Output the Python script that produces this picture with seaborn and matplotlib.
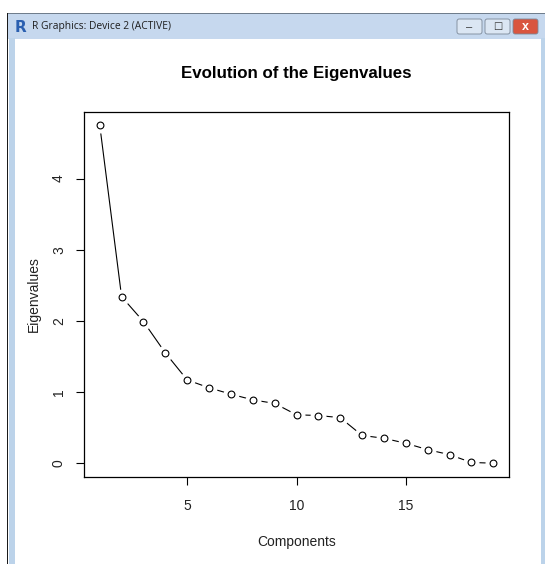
import numpy as np
import matplotlib
matplotlib.use("Agg")
import matplotlib.pyplot as plt
from matplotlib.patches import Rectangle, FancyBboxPatch
import seaborn as sns

# ── Data ───────────────────────────────────────────────────────
components = list(range(1, 20))
eigenvalues = [4.75, 2.34, 1.99, 1.55, 1.17, 1.06, 0.97, 0.89, 0.84, 0.68,
               0.67, 0.64, 0.39, 0.35, 0.28, 0.19, 0.12, 0.01, 0.00]
x_ticks = [5, 10, 15]
y_ticks = [0, 1, 2, 3, 4]
window_title = "R Graphics: Device 2 (ACTIVE)"

sns.set_theme(style="white")
plt.rcParams["font.family"] = ["Liberation Sans", "DejaVu Sans"]

W, H = 545, 564
fig = plt.figure(figsize=(W / 100, H / 100), dpi=100)
fig.patch.set_facecolor("white")


def px(x0, y0, w, h):
    # pixel box (top-left origin) -> figure fraction rect
    return (x0 / W, 1 - (y0 + h) / H, w / W, h / H)


# ── Window chrome ─────────────────────────────────────────────
def frect(x0, y0, w, h, **kw):
    l, b, ww, hh = px(x0, y0, w, h)
    fig.patches.append(Rectangle((l, b), ww, hh, transform=fig.transFigure, **kw))


frect(7, 13, 538, 26, facecolor="#c6d8ee", edgecolor="none")
frect(7, 13, 538, 1, facecolor="#6f7d8c", edgecolor="none")
frect(7, 13, 1.2, 551, facecolor="#1a1a1a", edgecolor="none")
frect(8.5, 38, 6, 526, facecolor="#bcd3ea", edgecolor="none")
frect(541, 38, 4, 526, facecolor="#bcd3ea", edgecolor="none")

fig.text(15 / W, 1 - 27 / H, "R", color="#2a5fb0", fontsize=11, fontweight="bold",
         va="center", ha="left", family=["DejaVu Sans"])
fig.text(32 / W, 1 - 27 / H, window_title, color="#1e1e1e", fontsize=7.4,
         va="center", ha="left", family=["Open Sans", "DejaVu Sans"])

for x0, fc in [(457, "#dbe6f3"), (485, "#dbe6f3"), (513, "#d9553f")]:
    l, b, ww, hh = px(x0, 19, 25, 15)
    fig.patches.append(FancyBboxPatch((l, b), ww, hh, boxstyle="round,pad=0,rounding_size=0.004",
                                      transform=fig.transFigure, facecolor=fc,
                                      edgecolor="#7a8797", linewidth=0.6))
fig.text(469.5 / W, 1 - 27.5 / H, "\u2013", fontsize=8, ha="center", va="center", color="#333")
fig.text(497.5 / W, 1 - 26.5 / H, "\u25a1", fontsize=7, ha="center", va="center", color="#333",
         family=["DejaVu Sans"])
fig.text(525.5 / W, 1 - 26.5 / H, "x", fontsize=9, fontweight="bold", ha="center", va="center",
         color="white")

# ── Plot ──────────────────────────────────────────────────────
ax = fig.add_axes(px(84, 111.7, 425, 365))

sns.lineplot(x=components, y=eigenvalues, color="black", linewidth=0.8, ax=ax, zorder=2)
# white halo so the segments stop short of the points, like R's type = "b"
ax.plot(components, eigenvalues, linestyle="none", marker="o", markersize=10.5,
        markerfacecolor="white", markeredgecolor="white", zorder=3)
sns.scatterplot(x=components, y=eigenvalues, s=24, facecolor="white",
                edgecolor="black", linewidth=0.8, ax=ax, zorder=4)

ax.set_xlim(1 - 0.04 * 18, 19 + 0.04 * 18)
span = max(eigenvalues) - min(eigenvalues)
ax.set_ylim(min(eigenvalues) - 0.04 * span, max(eigenvalues) + 0.04 * span)
ax.set_xticks(x_ticks)
ax.set_yticks(y_ticks)
ax.set_yticklabels([str(t) for t in y_ticks], rotation=90, va="center")

for s in ax.spines.values():
    s.set_visible(True)
    s.set_color("black")
    s.set_linewidth(0.9)
ax.tick_params(axis="both", which="both", direction="out", length=6, width=0.8,
               color="black", labelsize=10, labelcolor="#222", pad=7,
               bottom=True, left=True)
ax.tick_params(axis="x", pad=10)

ax.set_xlabel("Components", fontsize=10, color="#222", labelpad=16)
ax.set_ylabel("Eigenvalues", fontsize=10, color="#222", labelpad=8)
ax.set_title("Evolution of the Eigenvalues", fontsize=12.2, fontweight="bold",
             color="black", pad=24)

fig.savefig("out.png", dpi=100)
plt.close(fig)
